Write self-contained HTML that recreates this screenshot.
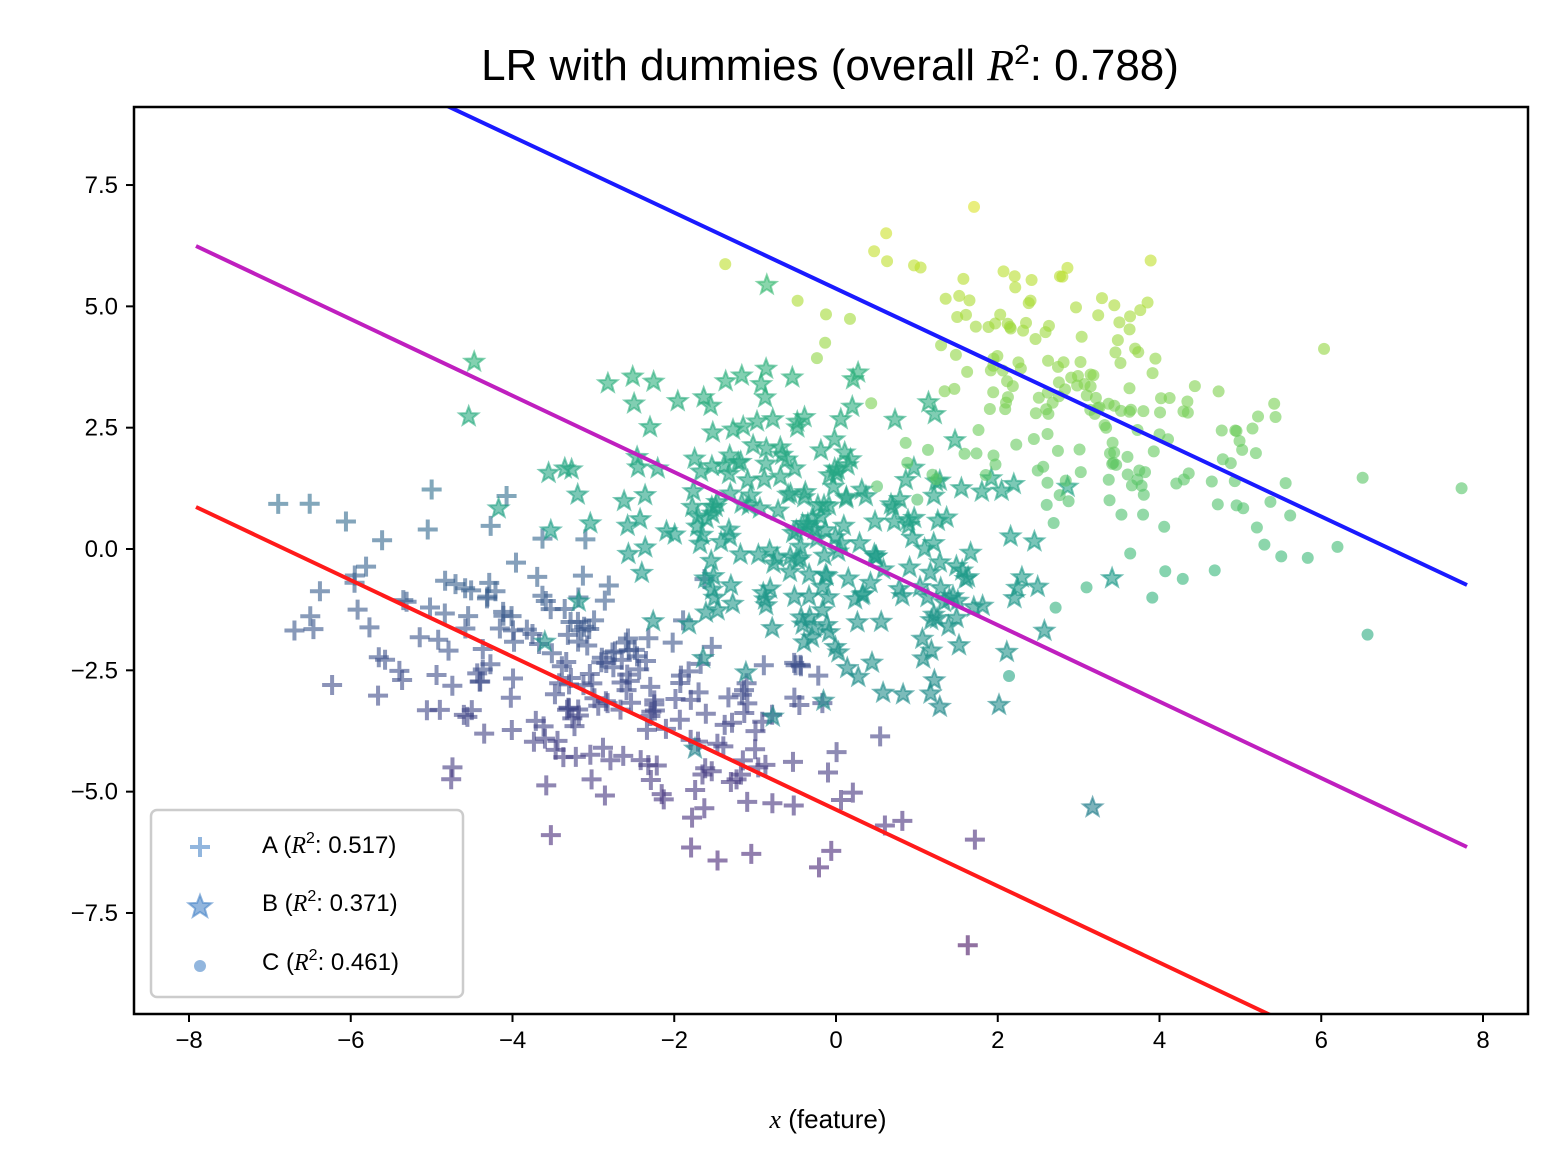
<!DOCTYPE html>
<html><head><meta charset="utf-8"><style>
body{margin:0;background:#fff;}
svg{display:block;font-family:"Liberation Sans","DejaVu Sans",sans-serif;}
</style></head><body>
<svg id="s" width="1559" height="1171" viewBox="0 0 1559 1171" xmlns="http://www.w3.org/2000/svg">
<defs><clipPath id="c"><rect x="134" y="107" width="1394" height="907"/></clipPath></defs>
<rect width="1559" height="1171" fill="#fff"/>
<text x="830" y="80" font-size="44" text-anchor="middle">LR with dummies (overall <tspan font-family="Liberation Serif,serif" font-style="italic">R</tspan><tspan font-size="28" dy="-16">2</tspan><tspan dy="16">: 0.788)</tspan></text>
<g id="pts" clip-path="url(#c)"></g>
<g clip-path="url(#c)" stroke-width="4" fill="none">
<line x1="196" y1="246" x2="1467" y2="847" stroke="#bf1fbf"/>
<line x1="196" y1="507" x2="1467" y2="1108" stroke="#ff1a1a"/>
<line x1="196" y1="-12" x2="1467" y2="585" stroke="#1a1aff"/>
</g>
<rect x="134" y="107" width="1394" height="907" fill="none" stroke="#000" stroke-width="2.5"/>
<g id="ticks" font-size="24"></g>
<text x="828" y="1128" font-size="26" text-anchor="middle"><tspan font-family="Liberation Serif,serif" font-style="italic">x</tspan> (feature)</text>
<rect x="151" y="810" width="312" height="187" rx="6" fill="#fff" fill-opacity="0.85" stroke="#ccc" stroke-width="2.5"/>
<g fill="#4a86c8" fill-opacity="0.6" stroke="#4a86c8" stroke-opacity="0.6">
<path d="M190 847h20M200 837v20" stroke-width="4" fill="none"/>
<path id="lst" d="" stroke-width="2"/>
<circle cx="200" cy="966" r="6" stroke="none"/>
</g>
<g font-size="24">
<text x="262" y="853">A (<tspan font-family="Liberation Serif,serif" font-style="italic">R</tspan><tspan font-size="16" dy="-10">2</tspan><tspan dy="10">: 0.517)</tspan></text>
<text x="262" y="911">B (<tspan font-family="Liberation Serif,serif" font-style="italic">R</tspan><tspan font-size="16" dy="-10">2</tspan><tspan dy="10">: 0.371)</tspan></text>
<text x="262" y="970">C (<tspan font-family="Liberation Serif,serif" font-style="italic">R</tspan><tspan font-size="16" dy="-10">2</tspan><tspan dy="10">: 0.461)</tspan></text>
</g>
</svg>
<script>
function X(x){return 836+80.875*x;}function Y(y){return 549-48.53*y;}
var tk=document.getElementById("ticks"),h="";
for(var v=-8;v<=8;v+=2){var px=X(v);h+='<line x1="'+px+'" y1="1014" x2="'+px+'" y2="1022" stroke="#000" stroke-width="2"/><text x="'+px+'" y="1048" text-anchor="middle">'+(v<0?"\u2212"+(-v):v)+'</text>';}
[-7.5,-5,-2.5,0,2.5,5,7.5].forEach(function(v){var py=Y(v);h+='<line x1="126" y1="'+py+'" x2="134" y2="'+py+'" stroke="#000" stroke-width="2"/><text x="118" y="'+(py+8)+'" text-anchor="end">'+(v<0?"\u2212"+(-v).toFixed(1):v.toFixed(1))+'</text>';});
tk.innerHTML=h;
function star(cx,cy,R){var r=R*0.42,d="";for(var i=0;i<10;i++){var a=-Math.PI/2+i*Math.PI/5,rr=i%2?r:R;d+=(i?"L":"M")+(cx+rr*Math.cos(a)).toFixed(1)+" "+(cy+rr*Math.sin(a)).toFixed(1);}return d+"Z";}
document.getElementById("lst").setAttribute("d",star(200,907,12));
var seed=12345;function rnd(){seed=(seed*1103515245+12345)%2147483648;return seed/2147483648;}
function gn(){var u=rnd()||1e-9,v=rnd();return Math.sqrt(-2*Math.log(u))*Math.cos(2*Math.PI*v);}
var vir=[[68,1,84],[72,40,120],[62,74,137],[49,104,142],[38,130,142],[31,158,137],[53,183,121],[109,205,89],[180,222,44],[253,231,37]];
function col(t){t=Math.max(0,Math.min(1,t))*9;var i=Math.min(8,Math.floor(t)),f=t-i,a=vir[i],b=vir[i+1];return "rgb("+[0,1,2].map(function(k){return Math.round(a[k]+(b[k]-a[k])*f);}).join(",")+")";}
var out="";
function cluster(n,cx,cy,sx,sl,sy,type,t0,t1){for(var i=0;i<n;i++){var x=cx+sx*gn(),y=cy+sl*(x-cx)+sy*gn();var t=t0+(t1-t0)*((y+9)/17.5);var c=col(t),px=X(x),py=Y(y);
if(type==0)out+='<path d="M'+(px-10)+' '+py+'h20M'+px+' '+(py-10)+'v20" stroke="'+c+'" stroke-width="4" stroke-opacity="0.6"/>';
else if(type==1)out+='<path d="'+star(px,py,10)+'" fill="'+c+'" fill-opacity="0.6" stroke="'+c+'" stroke-opacity="0.6" stroke-width="2"/>';
else out+='<circle cx="'+px+'" cy="'+py+'" r="6" fill="'+c+'" fill-opacity="0.6"/>';}}
cluster(230,-3,-2.8,1.7,-0.6,1.3,0,0.02,0.6);
cluster(260,-0.2,0.2,1.5,-0.5,1.5,1,0.35,0.75);
cluster(210,3.0,2.9,1.5,-0.6,1.5,2,0.35,1.0);
document.getElementById("pts").innerHTML=out;
</script>
</body></html>
